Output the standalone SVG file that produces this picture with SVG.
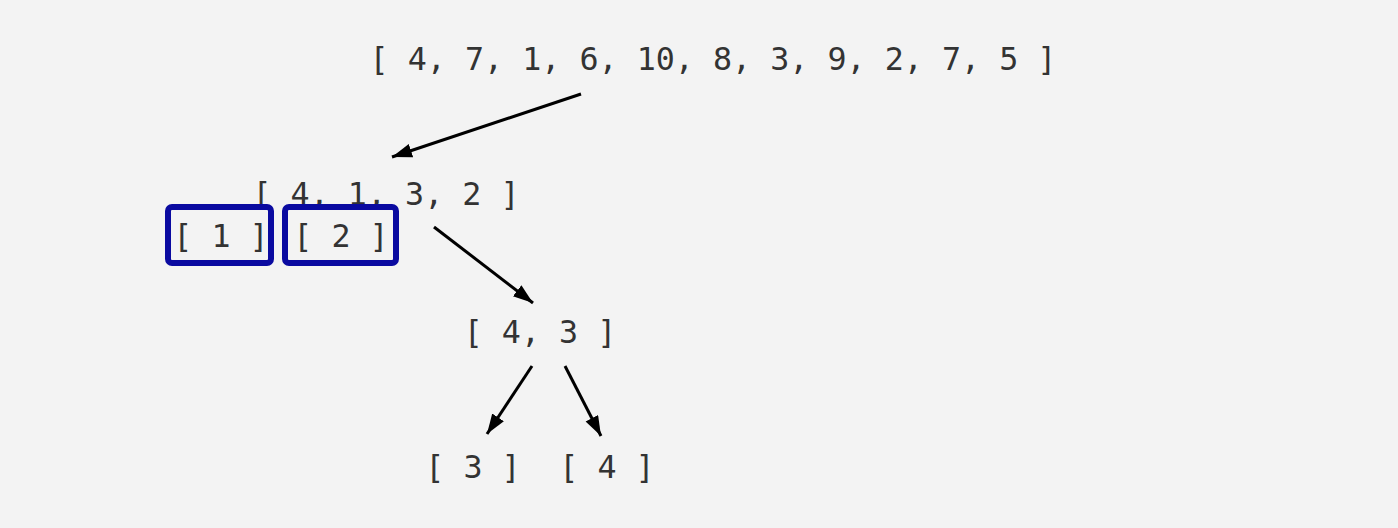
<svg xmlns="http://www.w3.org/2000/svg" width="1398" height="528" viewBox="0 0 1398 528">
  <style>
    .lbl { font-family: "DejaVu Sans Mono", "Liberation Mono", monospace; font-size: 31.7px; fill: #333333; text-anchor: middle; }
    .edge { stroke: #000000; stroke-width: 3; fill: none; marker-end: url(#arrow); }
    .box { fill: none; stroke: #0a0aa0; stroke-width: 6; }
  </style>
  <defs>
    <marker id="arrow" markerUnits="userSpaceOnUse" markerWidth="22" markerHeight="16" refX="20" refY="7" orient="auto">
      <path d="M0,0 L20,7 L0,14 z" fill="#000000"/>
    </marker>
  </defs>
  <rect x="0" y="0" width="1398" height="528" fill="#f3f3f3"/>

  <g id="connectors">
    <line class="edge" x1="581" y1="94" x2="392" y2="157"/>
    <line class="edge" x1="434" y1="227" x2="533" y2="303"/>
    <line class="edge" x1="532" y1="366" x2="487" y2="434"/>
    <line class="edge" x1="565" y1="366" x2="601" y2="436"/>
  </g>

  <g id="root">
    <text class="lbl" x="713" y="70">[ 4, 7, 1, 6, 10, 8, 3, 9, 2, 7, 5 ]</text>
  </g>
  <g id="left">
    <text class="lbl" x="386" y="205">[ 4, 1, 3, 2 ]</text>
  </g>
  <g id="one">
    <rect class="box" x="168" y="207" width="103" height="56" rx="4"/>
    <text class="lbl" x="221" y="247">[ 1 ]</text>
  </g>
  <g id="two">
    <rect class="box" x="285" y="207" width="111" height="56" rx="4"/>
    <text class="lbl" x="341" y="247">[ 2 ]</text>
  </g>
  <g id="mid">
    <text class="lbl" x="540" y="343">[ 4, 3 ]</text>
  </g>
  <g id="three">
    <text class="lbl" x="473" y="478">[ 3 ]</text>
  </g>
  <g id="four">
    <text class="lbl" x="607" y="478">[ 4 ]</text>
  </g>
</svg>
